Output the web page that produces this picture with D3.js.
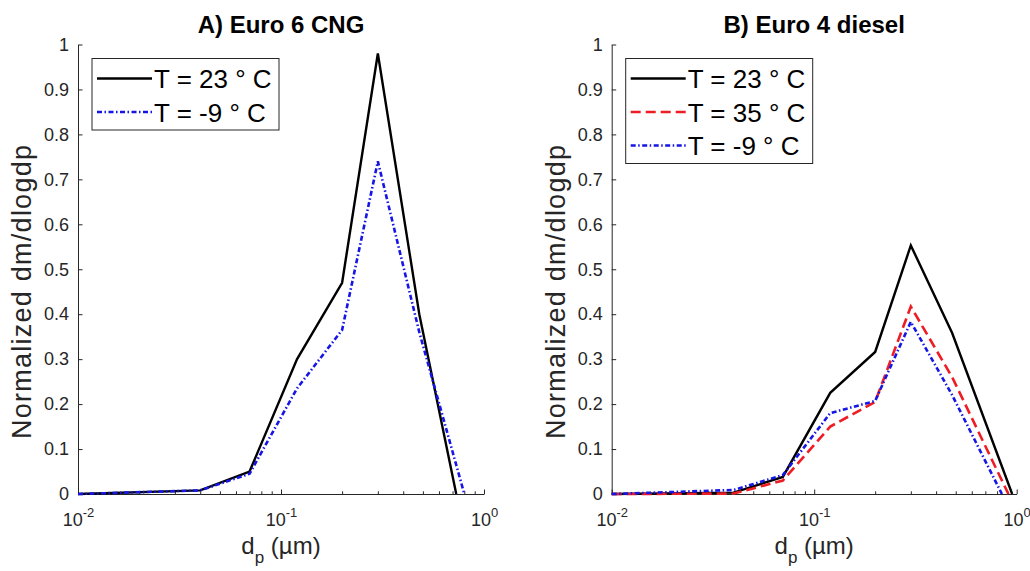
<!DOCTYPE html>
<html>
<head>
<meta charset="utf-8">
<script src="https://cdn.jsdelivr.net/npm/d3@7"></script>
<style>
  body { margin: 0; background: #fff; }
  text { font-family: Helvetica, Arial, "Liberation Sans", sans-serif; }
</style>
</head>
<body>
<div id="container"></div>
<script>
/* CONSTANTS AND GLOBALS */
const width = 1030,
  height = 571,
  yTop = 44.5,
  yBottom = 494

/* DATA */
const titles = ["A) Euro 6 CNG", "B) Euro 4 diesel"]
const yTicks = [0, 0.1, 0.2, 0.3, 0.4, 0.5, 0.6, 0.7, 0.8, 0.9, 1]
const xMajor = [0.01, 0.1, 1]

// panel A: Euro 6 CNG
const cngLabels = ["T = 23 \u00b0 C", "T = -9 \u00b0 C"]
const cngDp23 = [0.01, 0.04, 0.07, 0.12, 0.2, 0.3, 0.48, 0.73]
const cngVal23 = [0, 0.008, 0.05, 0.30, 0.47, 0.98, 0.40, 0]
const cngDpM9 = [0.01, 0.04, 0.07, 0.12, 0.2, 0.3, 0.48, 0.80]
const cngValM9 = [0, 0.008, 0.045, 0.235, 0.365, 0.74, 0.36, 0]

// panel B: Euro 4 diesel
const dieselLabels = ["T = 23 \u00b0 C", "T = 35 \u00b0 C", "T = -9 \u00b0 C"]
const dieselDp23 = [0.01, 0.04, 0.07, 0.12, 0.2, 0.3, 0.48, 0.95]
const dieselVal23 = [0, 0.003, 0.038, 0.225, 0.316, 0.553, 0.358, 0]
const dieselDp35 = [0.01, 0.04, 0.07, 0.12, 0.2, 0.3, 0.48, 0.91]
const dieselVal35 = [0, 0.001, 0.03, 0.15, 0.205, 0.417, 0.26, 0]
const dieselDpM9 = [0.01, 0.04, 0.07, 0.12, 0.2, 0.3, 0.48, 0.845]
const dieselValM9 = [0, 0.009, 0.042, 0.18, 0.207, 0.383, 0.22, 0]

// line styles
const black = { color: "#000000", dash: null, w: 2.4 }
const red = { color: "#ee1c24", dash: "10,5", w: 2.6 }
const blue = { color: "#1515e6", dash: "5,2.5,1.5,2.5", w: 2.6 }

const zip = (xs, ys) => xs.map((x, i) => ({ dp: x, v: ys[i] }))

const panels = [
  {
    x0: 78, x1: 484, title: titles[0],
    series: [
      { label: cngLabels[0], data: zip(cngDp23, cngVal23), ...black },
      { label: cngLabels[1], data: zip(cngDpM9, cngValM9), ...blue }
    ]
  },
  {
    x0: 611.7, x1: 1016.7, title: titles[1],
    series: [
      { label: dieselLabels[0], data: zip(dieselDp23, dieselVal23), ...black },
      { label: dieselLabels[1], data: zip(dieselDp35, dieselVal35), ...red },
      { label: dieselLabels[2], data: zip(dieselDpM9, dieselValM9), ...blue }
    ]
  }
]

// CREATE SVG ELEMENT
const svg = d3.select("#container")
  .append("svg")
  .attr("width", width)
  .attr("height", height)

const axisColor = "#262626"

panels.forEach(p => {
  // + SCALES
  const xScale = d3.scaleLog()
    .domain([0.01, 1])
    .range([p.x0, p.x1])

  const yScale = d3.scaleLinear()
    .domain([0, 1])
    .range([yBottom, yTop])

  // minor ticks on the log axis
  const minor = []
  ;[0.01, 0.1].forEach(b => { for (let k = 2; k <= 9; k++) minor.push(b * k) })

  svg.append("g")
    .attr("transform", `translate(0, ${yBottom})`)
    .call(d3.axisBottom(xScale).tickValues(minor).tickSizeInner(-2.7).tickSizeOuter(0).tickFormat(""))
    .call(g => g.select(".domain").remove())
    .call(g => g.selectAll("line").attr("stroke", axisColor))

  // BUILD AND CALL AXES
  const xAxisGroup = svg.append("g")
    .attr("transform", `translate(0, ${yBottom})`)
    .call(d3.axisBottom(xScale).tickValues(xMajor).tickSizeInner(-4.5).tickSizeOuter(0).tickFormat(""))

  xAxisGroup.select(".domain").attr("stroke", axisColor)
  xAxisGroup.selectAll("line").attr("stroke", axisColor)
  xAxisGroup.selectAll(".tick text")
    .attr("fill", axisColor)
    .attr("font-size", 18)
    .attr("dy", null)
    .attr("y", 32)
    .each(function(d) {
      const t = d3.select(this)
      t.append("tspan").text("10")
      t.append("tspan").attr("dy", -9).attr("font-size", 13).text(Math.round(Math.log10(d)))
    })

  const yAxisGroup = svg.append("g")
    .attr("transform", `translate(${p.x0}, 0)`)
    .call(d3.axisLeft(yScale).tickValues(yTicks).tickSizeInner(-4.5).tickSizeOuter(0).tickPadding(9).tickFormat(d3.format("~g")))

  yAxisGroup.select(".domain").attr("stroke", axisColor)
  yAxisGroup.selectAll("line").attr("stroke", axisColor)
  yAxisGroup.selectAll("text")
    .attr("fill", axisColor)
    .attr("font-size", 18)

  // title
  svg.append("text")
    .attr("x", (p.x0 + p.x1) / 2)
    .attr("y", 33)
    .attr("text-anchor", "middle")
    .attr("font-size", 24)
    .attr("font-weight", "bold")
    .text(p.title)

  // y label
  svg.append("text")
    .attr("transform", `translate(${p.x0 - 47}, 292) rotate(-90)`)
    .attr("text-anchor", "middle")
    .attr("font-size", 27)
    .attr("fill", axisColor)
    .attr("textLength", 294)
    .attr("lengthAdjust", "spacing")
    .text("Normalized dm/dlogdp")

  // x label
  const xl = svg.append("text")
    .attr("x", (p.x0 + p.x1) / 2)
    .attr("y", 554)
    .attr("text-anchor", "middle")
    .attr("font-size", 24)
    .attr("fill", axisColor)
  xl.append("tspan").text("d")
  xl.append("tspan").attr("dy", 9).attr("font-size", 17).text("p")
  xl.append("tspan").attr("dy", -9).text(" (\u00b5m)")

  // LINE GENERATOR FUNCTION
  const lineGen = d3.line()
    .x(d => xScale(d.dp))
    .y(d => yScale(d.v))

  // DRAW LINES
  svg.append("g")
    .selectAll(".line")
    .data(p.series)
    .join("path")
    .attr("class", "line")
    .attr("fill", "none")
    .attr("stroke", d => d.color)
    .attr("stroke-width", d => d.w)
    .attr("stroke-dasharray", d => d.dash)
    .attr("stroke-linejoin", "miter")
    .attr("d", d => lineGen(d.data))

  // LEGEND
  const lx = p.x0 + 14, ly = 58.5, rowGap = 33.5
  const n = p.series.length
  const legend = svg.append("g")
  legend.append("rect")
    .attr("x", lx)
    .attr("y", ly)
    .attr("width", 187)
    .attr("height", 20 + (n - 1) * rowGap + 18)
    .attr("fill", "#fff")
    .attr("stroke", axisColor)
    .attr("stroke-width", 1)

  const rows = legend.selectAll(".row")
    .data(p.series)
    .join("g")
    .attr("class", "row")
    .attr("transform", (d, i) => `translate(${lx}, ${ly + 20 + i * rowGap})`)

  rows.append("line")
    .attr("x1", 5)
    .attr("x2", 60)
    .attr("stroke", d => d.color)
    .attr("stroke-width", d => d.w)
    .attr("stroke-dasharray", d => d.dash)

  rows.append("text")
    .attr("x", 62)
    .attr("y", 9.5)
    .attr("font-size", 26)
    .text(d => d.label)
})
</script>
</body>
</html>
